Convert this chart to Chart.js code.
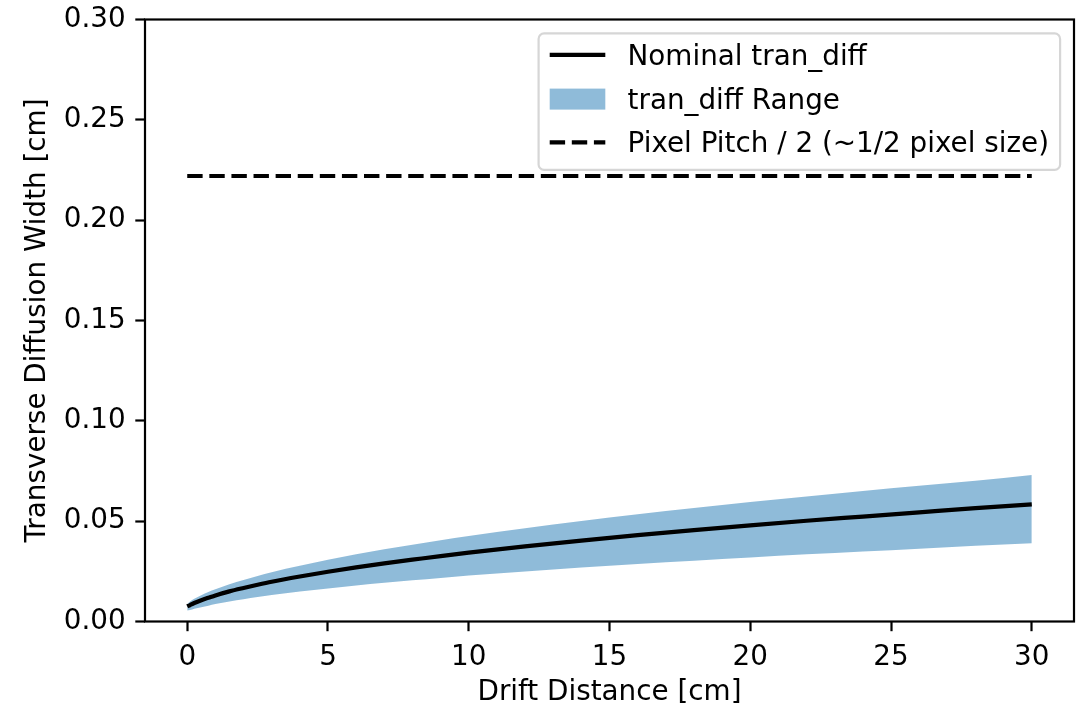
<!DOCTYPE html>
<html>
<head>
<meta charset="utf-8">
<title>Transverse Diffusion Width</title>
<script src="https://cdn.jsdelivr.net/npm/chart.js@4.4.1/dist/chart.umd.min.js"></script>
<style>
    html, body { margin: 0; padding: 0; background: #fff; }
    #wrap { width: 1081px; height: 704px; }
</style>
</head>
<body>
<div id="wrap"><canvas id="diffChart" width="1081" height="704"></canvas></div>
<script>
// Drift distance samples [cm]
const distance = [0, 0.1, 0.25, 0.5, 0.75, 1, 1.5, 2, 2.5, 3, 4, 5, 6, 7, 8, 9, 10, 12, 14, 16, 18, 20, 22, 24, 26, 28, 30];

// Nominal transverse diffusion width [cm]
const nominalWidth = [0.0075, 0.0082, 0.0092, 0.0106, 0.0118, 0.0130, 0.0150, 0.0167, 0.0183, 0.0198, 0.0224, 0.0248, 0.0270, 0.0290, 0.0308, 0.0326, 0.0343, 0.0374, 0.0403, 0.0430, 0.0455, 0.0479, 0.0502, 0.0523, 0.0544, 0.0565, 0.0584];

// tran_diff range, upper and lower edge [cm]
const rangeUpper = [0.0086, 0.0100, 0.0113, 0.0131, 0.0147, 0.0161, 0.0186, 0.0207, 0.0227, 0.0246, 0.0278, 0.0308, 0.0335, 0.0360, 0.0383, 0.0405, 0.0426, 0.0465, 0.0501, 0.0534, 0.0565, 0.0595, 0.0623, 0.0650, 0.0676, 0.0701, 0.0730];
const rangeLower = [0.0055, 0.0057, 0.0063, 0.0071, 0.0079, 0.0087, 0.0100, 0.0111, 0.0122, 0.0132, 0.0149, 0.0165, 0.0180, 0.0193, 0.0205, 0.0217, 0.0229, 0.0249, 0.0269, 0.0287, 0.0303, 0.0319, 0.0335, 0.0349, 0.0363, 0.0377, 0.0390];

// Half pixel pitch [cm], drawn across the drift range
const pitchHalf = 0.222;
const pitchSpan = [0, 30];

// Axis ticks
const xTicks = [0, 5, 10, 15, 20, 25, 30];
const yTicks = [0, 0.05, 0.10, 0.15, 0.20, 0.25, 0.30];

const FONT = 27.8;
const AXIS_LW = 2.2;

const toPoints = (xs, ys) => xs.map((x, i) => ({ x: x, y: ys[i] }));

// legend inside the axes, upper right
const innerLegend = {
    id: 'innerLegend',
    afterDraw(chart) {
        const ctx = chart.ctx;
        const area = chart.chartArea;
        const items = [
            { label: 'Nominal tran_diff', kind: 'line', ds: chart.data.datasets[0] },
            { label: 'tran_diff Range', kind: 'patch', ds: chart.data.datasets[1] },
            { label: 'Pixel Pitch / 2 (~1/2 pixel size)', kind: 'line', ds: chart.data.datasets[3] }
        ];
        ctx.save();
        ctx.font = FONT + 'px "DejaVu Sans"';
        const textW = Math.max(...items.map(it => ctx.measureText(it.label).width));
        const pad = 0.4 * FONT, handleLen = 2 * FONT, textPad = 0.8 * FONT;
        const right = area.right - 0.5 * FONT;
        const top = area.top + 0.5 * FONT;
        const w = pad + handleLen + textPad + textW + pad;
        const left = right - w;
        const h = 136.5;
        const rows = [21.5, 65.7, 109];

        ctx.beginPath();
        ctx.roundRect(left, top, w, h, 5.5);
        ctx.fillStyle = 'rgba(255,255,255,0.8)';
        ctx.fill();
        ctx.lineWidth = AXIS_LW;
        ctx.strokeStyle = '#d6d6d6';
        ctx.stroke();

        items.forEach((it, i) => {
            const cy = top + rows[i];
            const hx = left + pad;
            if (it.kind === 'line') {
                ctx.beginPath();
                ctx.setLineDash(it.ds.borderDash || []);
                ctx.lineWidth = it.ds.borderWidth;
                ctx.strokeStyle = it.ds.borderColor;
                ctx.moveTo(hx, cy);
                ctx.lineTo(hx + handleLen, cy);
                ctx.stroke();
                ctx.setLineDash([]);
            } else {
                ctx.fillStyle = it.ds.backgroundColor;
                ctx.fillRect(hx, cy - 10.5, handleLen, 21);
            }
            ctx.fillStyle = '#000';
            ctx.textBaseline = 'middle';
            ctx.textAlign = 'left';
            ctx.fillText(it.label, hx + handleLen + textPad, cy + 2.5);
        });
        ctx.restore();
    }
};

// full axes frame on top of the data
const axesFrame = {
    id: 'axesFrame',
    afterDatasetsDraw(chart) {
        const { ctx, chartArea: a } = chart;
        ctx.save();
        ctx.lineWidth = AXIS_LW;
        ctx.strokeStyle = '#000';
        ctx.strokeRect(a.left, a.top, a.right - a.left, a.bottom - a.top);
        ctx.restore();
    }
};

Chart.defaults.font.family = '"DejaVu Sans"';
Chart.defaults.font.size = FONT;
Chart.defaults.color = '#000';

new Chart(document.getElementById('diffChart'), {
    type: 'line',
    data: {
        datasets: [
            {
                label: 'Nominal tran_diff',
                data: toPoints(distance, nominalWidth),
                borderColor: '#000',
                borderWidth: 4.2,
                pointRadius: 0,
                cubicInterpolationMode: 'monotone',
                fill: false,
                order: 0
            },
            {
                label: 'tran_diff Range',
                data: toPoints(distance, rangeUpper),
                borderWidth: 0,
                borderColor: 'rgba(0,0,0,0)',
                backgroundColor: 'rgba(31,119,180,0.5)',
                pointRadius: 0,
                cubicInterpolationMode: 'monotone',
                fill: '+1',
                order: 2
            },
            {
                label: 'range lower',
                data: toPoints(distance, rangeLower),
                borderWidth: 0,
                borderColor: 'rgba(0,0,0,0)',
                pointRadius: 0,
                cubicInterpolationMode: 'monotone',
                fill: false,
                order: 3
            },
            {
                label: 'Pixel Pitch / 2 (~1/2 pixel size)',
                data: pitchSpan.map(x => ({ x: x, y: pitchHalf })),
                borderColor: '#000',
                borderWidth: 4.2,
                borderDash: [15.4, 6.7],
                borderCapStyle: 'butt',
                pointRadius: 0,
                fill: false,
                order: 1
            }
        ]
    },
    options: {
        responsive: false,
        animation: false,
        devicePixelRatio: 1,
        layout: { padding: { top: 19.5, right: 7, left: 0, bottom: 0 } },
        plugins: {
            legend: { display: false },
            tooltip: { enabled: false }
        },
        scales: {
            x: {
                type: 'linear',
                min: -1.5,
                max: 31.5,
                afterBuildTicks: s => { s.ticks = xTicks.map(v => ({ value: v })); },
                afterFit: s => { s.height = 82.5; s.paddingLeft = 0; s.paddingRight = 0; },
                ticks: { padding: 9.7, maxRotation: 0, autoSkip: false, callback: v => String(v) },
                grid: { drawOnChartArea: false, drawTicks: true, tickLength: 9.7, tickWidth: AXIS_LW, tickColor: '#000' },
                border: { display: false },
                title: {
                    display: true,
                    text: 'Drift Distance [cm]',
                    font: { size: FONT, lineHeight: 1.0 },
                    padding: { top: 0, bottom: -3 }
                }
            },
            y: {
                type: 'linear',
                min: 0,
                max: 0.3,
                afterBuildTicks: s => { s.ticks = yTicks.map(v => ({ value: v })); },
                afterFit: s => { s.width = 145; s.paddingTop = 0; s.paddingBottom = 0; },
                ticks: { padding: 9.7, autoSkip: false, callback: v => Number(v).toFixed(2) },
                grid: { drawOnChartArea: false, drawTicks: true, tickLength: 9.7, tickWidth: AXIS_LW, tickColor: '#000' },
                border: { display: false },
                title: {
                    display: true,
                    text: 'Transverse Diffusion Width [cm]',
                    font: { size: FONT, lineHeight: 1.2 },
                    padding: { top: 21, bottom: 0 }
                }
            }
        }
    },
    plugins: [axesFrame, innerLegend]
});
</script>
</body>
</html>
